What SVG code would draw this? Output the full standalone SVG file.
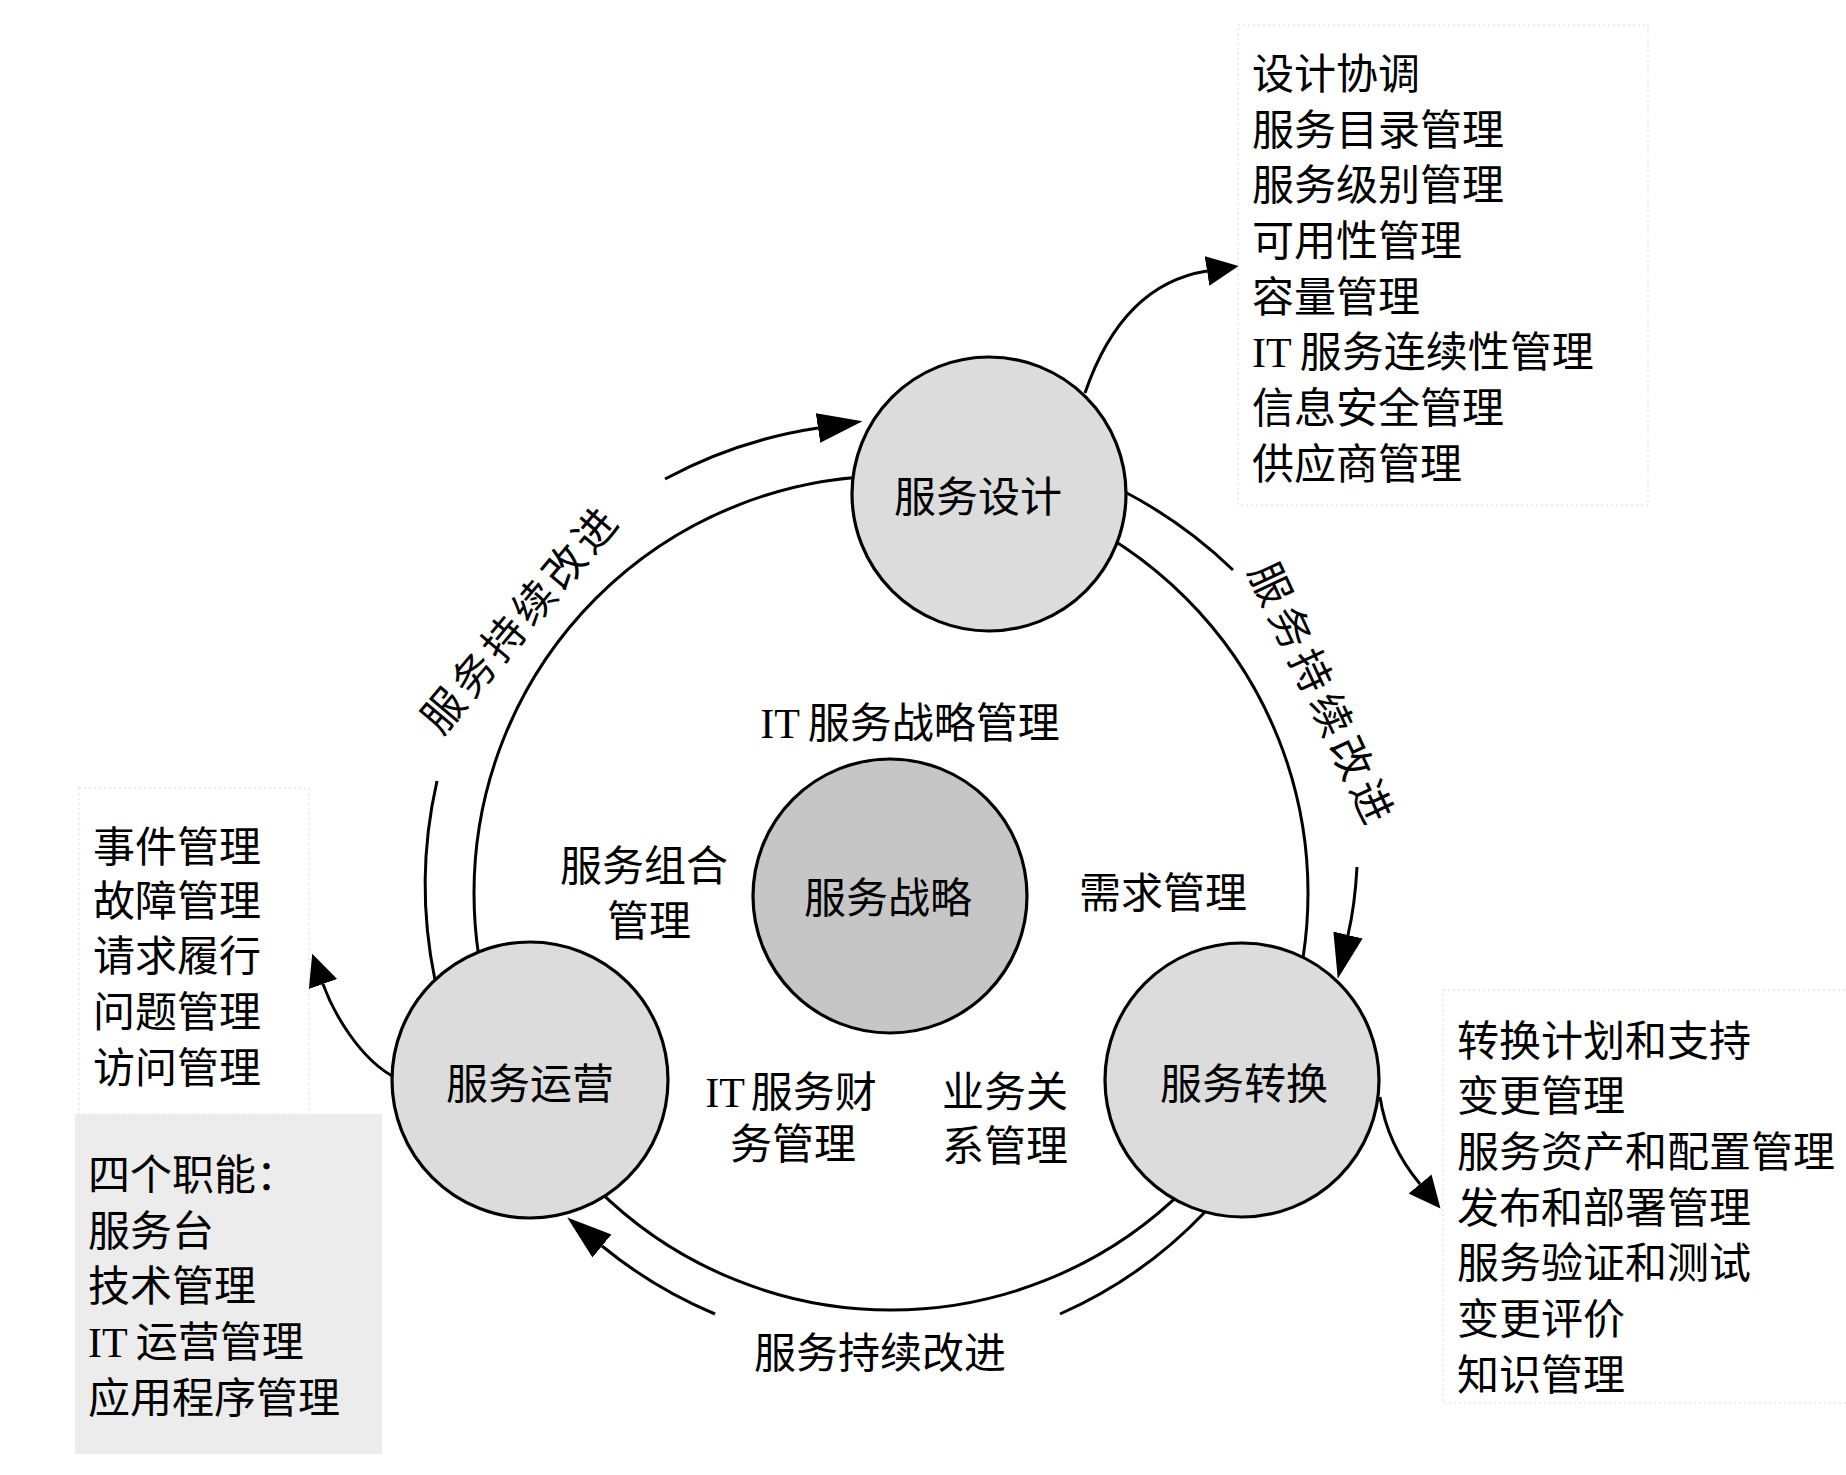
<svg xmlns="http://www.w3.org/2000/svg" width="1846" height="1475" viewBox="0 0 1846 1475">
<style>
  .t { font-family: "Liberation Serif", "Noto Sans CJK SC", sans-serif; font-size: 42px; fill: #000; }
  .m { text-anchor: middle; }
  .ln { fill: none; stroke: #000; stroke-width: 3; }
  .node { stroke: #000; stroke-width: 3.2; }
  .box { fill: #fff; stroke: #e6e6e6; stroke-width: 1.5; stroke-dasharray: 2 3; }
</style>
<defs>
  <marker id="ahL" markerUnits="userSpaceOnUse" markerWidth="46" markerHeight="32" viewBox="0 -16 46 32" refX="0" refY="0" orient="auto">
    <path d="M0,-15 L45,0 L0,15 Z" fill="#000"/>
  </marker>
  <marker id="ahS" markerUnits="userSpaceOnUse" markerWidth="34" markerHeight="32" viewBox="0 -16 34 32" refX="0" refY="0" orient="auto">
    <path d="M0,-15 L32,0 L0,15 Z" fill="#000"/>
  </marker>
</defs>
<rect width="1846" height="1475" fill="#fff"/>

<!-- list boxes -->
<g id="box-design">
  <rect class="box" x="1238" y="25" width="410" height="480"/>
  <text class="t" x="1252" y="89">设计协调</text>
  <text class="t" x="1252" y="145">服务目录管理</text>
  <text class="t" x="1252" y="200">服务级别管理</text>
  <text class="t" x="1252" y="256">可用性管理</text>
  <text class="t" x="1252" y="312">容量管理</text>
  <text class="t" x="1252" y="367">IT<tspan dx="8">服务连续性管理</tspan></text>
  <text class="t" x="1252" y="423">信息安全管理</text>
  <text class="t" x="1252" y="479">供应商管理</text>
</g>
<g id="box-operation">
  <rect class="box" x="79" y="788" width="230" height="326"/>
  <text class="t" x="93" y="862">事件管理</text>
  <text class="t" x="93" y="916">故障管理</text>
  <text class="t" x="93" y="971">请求履行</text>
  <text class="t" x="93" y="1027">问题管理</text>
  <text class="t" x="93" y="1083">访问管理</text>
</g>
<g id="box-functions">
  <rect x="75" y="1114" width="307" height="340" fill="#ececec"/>
  <text class="t" x="88" y="1190">四个职能：</text>
  <text class="t" x="88" y="1246">服务台</text>
  <text class="t" x="88" y="1301">技术管理</text>
  <text class="t" x="88" y="1357">IT<tspan dx="8">运营管理</tspan></text>
  <text class="t" x="88" y="1413">应用程序管理</text>
</g>
<g id="box-transition">
  <rect class="box" x="1443" y="990" width="410" height="413"/>
  <text class="t" x="1457" y="1056">转换计划和支持</text>
  <text class="t" x="1457" y="1111">变更管理</text>
  <text class="t" x="1457" y="1167">服务资产和配置管理</text>
  <text class="t" x="1457" y="1223">发布和部署管理</text>
  <text class="t" x="1457" y="1278">服务验证和测试</text>
  <text class="t" x="1457" y="1334">变更评价</text>
  <text class="t" x="1457" y="1390">知识管理</text>
</g>

<!-- connectors -->
<g id="connectors">
  <circle class="ln" cx="891" cy="893" r="417"/>
  <path class="ln" d="M665,479 A470,470 0 0 1 818,428" marker-end="url(#ahL)"/>
  <path class="ln" d="M437,781 A467,467 0 0 0 435,980"/>
  <path class="ln" d="M1125,492 A468,468 0 0 1 1233,570"/>
  <path class="ln" d="M1357,867 Q1355,905 1348,935" marker-end="url(#ahL)"/>
  <path class="ln" d="M1205,1212 A452,452 0 0 1 1060,1314"/>
  <path class="ln" d="M715,1314 A456,456 0 0 1 602,1246" marker-end="url(#ahL)"/>
  <path class="ln" d="M1085,393 C1110,320 1150,280 1207,271" marker-end="url(#ahS)"/>
  <path class="ln" d="M396,1078 C360,1060 333,1012 323,984" marker-end="url(#ahS)"/>
  <path class="ln" d="M1380,1097 C1385,1130 1400,1160 1420,1184" marker-end="url(#ahS)"/>
</g>

<!-- nodes -->
<g id="node-design">
  <circle class="node" cx="989" cy="494" r="137" fill="#dcdcdc"/>
  <text class="t m" x="978" y="512">服务设计</text>
</g>
<g id="node-strategy">
  <circle class="node" cx="890" cy="896" r="137" fill="#c6c6c6"/>
  <text class="t m" x="888" y="913">服务战略</text>
</g>
<g id="node-operation">
  <circle class="node" cx="530" cy="1080" r="138" fill="#dcdcdc"/>
  <text class="t m" x="530" y="1099">服务运营</text>
</g>
<g id="node-transition">
  <circle class="node" cx="1242" cy="1080" r="137" fill="#dcdcdc"/>
  <text class="t m" x="1244" y="1099">服务转换</text>
</g>

<!-- labels -->
<g id="labels">
  <text class="t m" x="910" y="738">IT<tspan dx="8">服务战略管理</tspan></text>
  <text class="t m" x="644" y="881">服务组合</text>
  <text class="t m" x="649" y="936">管理</text>
  <text class="t m" x="1163" y="908">需求管理</text>
  <text class="t m" x="791" y="1107">IT<tspan dx="6">服务财</tspan></text>
  <text class="t m" x="793" y="1159">务管理</text>
  <text class="t m" x="1005" y="1107">业务关</text>
  <text class="t m" x="1005" y="1161">系管理</text>
  <text class="t m" x="880" y="1368">服务持续改进</text>
  <text class="t m" transform="translate(520,618) rotate(-50)" x="0" y="16" letter-spacing="5">服务持续改进</text>
  <text class="t m" transform="translate(1323,695) rotate(65)" x="0" y="16" letter-spacing="6">服务持续改进</text>
</g>
</svg>
